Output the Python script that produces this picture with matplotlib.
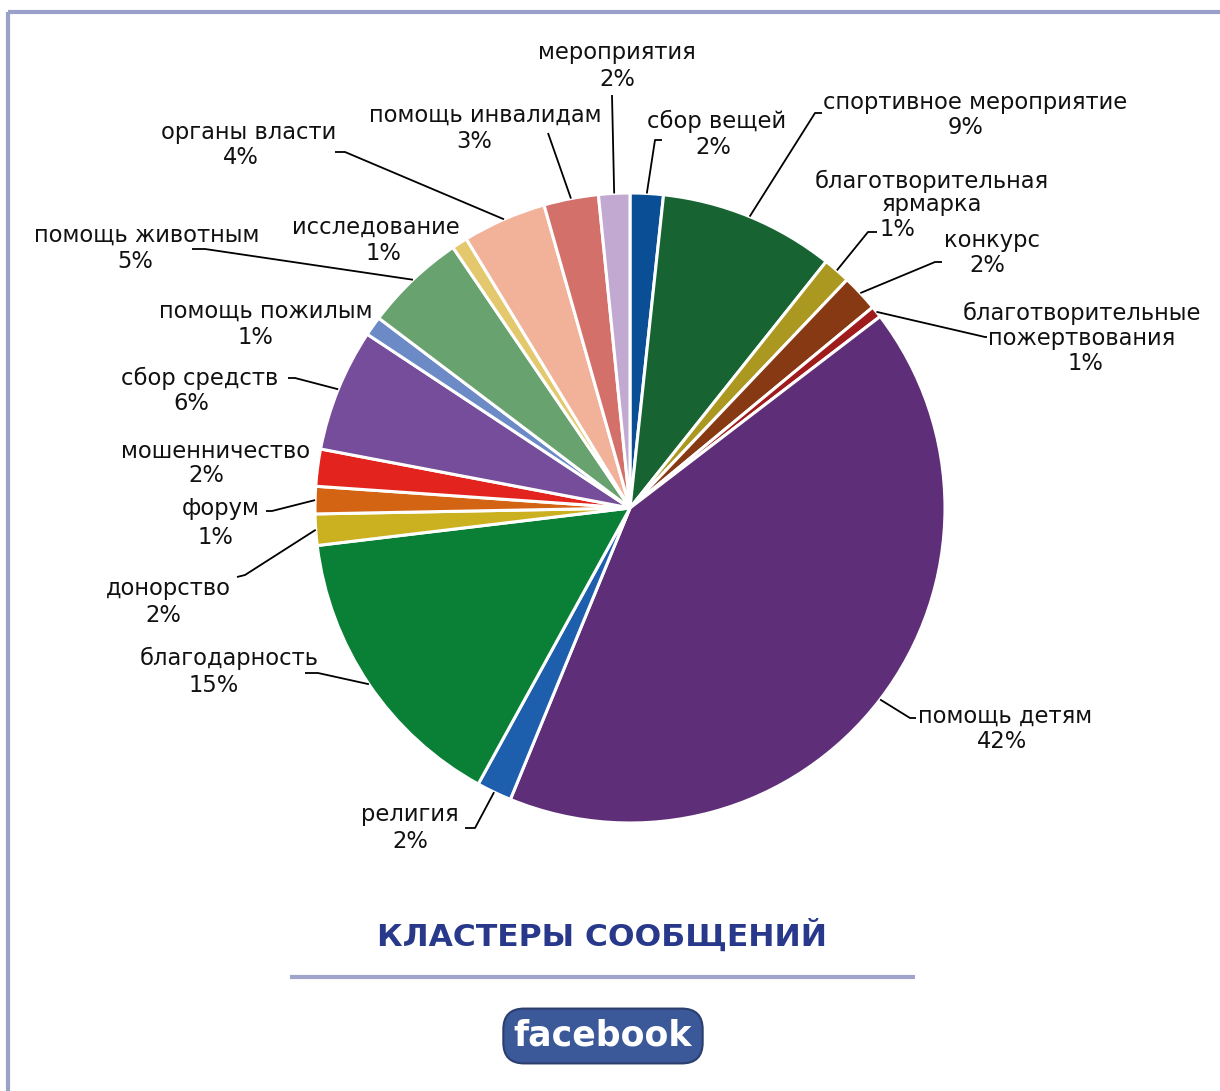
import matplotlib
matplotlib.use("Agg")
import matplotlib.pyplot as plt
import numpy as np

# ---------------- data ----------------
categories = [
    "сбор вещей", "спортивное мероприятие", "благотворительная\nярмарка", "конкурс",
    "благотворительные\nпожертвования", "помощь детям", "религия", "благодарность",
    "донорство", "форум", "мошенничество", "сбор средств", "помощь пожилым",
    "помощь животным", "исследование", "органы власти", "помощь инвалидам", "мероприятия",
]
values = [1.7, 9.0, 1.4, 1.9, 0.6, 41.6, 1.8, 15.1, 1.6, 1.4, 1.9, 6.3, 1.0, 5.2, 0.8, 4.3, 2.8, 1.6]
colors = [
    "#0a4f96", "#186332", "#ab9820", "#873914", "#a01c1c", "#5e2f78", "#1e5fad", "#0a8037",
    "#cbb020", "#d36414", "#e3231d", "#764d9a", "#6b8ac6", "#68a26f", "#e4c86e", "#f2b199",
    "#d4706a", "#c2a9d1",
]
title = "КЛАСТЕРЫ СООБЩЕНИЙ"

# ---------------- layout (pixel coords, y downward) ----------------
W, H = 1220, 1091
CX, CY, R = 630, 508, 315
layout = [
    dict(name=(717, 121), pct=(713, 148), lead=[(655, 140), (662, 140)]),
    dict(name=(975, 102), pct=(966, 128), lead=[(815, 113), (822, 113)]),
    dict(name=(932, 181), pct=(897, 230), lead=[(868, 232), (877, 232)], ls=1.0),
    dict(name=(992, 241), pct=(987, 265), lead=[(935, 262), (942, 262)]),
    dict(name=(1082, 313), pct=(1086, 363), lead=[(985, 337), (987, 337)]),
    dict(name=(1005, 716), pct=(1002, 741), lead=[(910, 718), (916, 718)]),
    dict(name=(410, 815), pct=(410, 842), lead=[(475, 828), (465, 828)]),
    dict(name=(229, 658), pct=(214, 685), lead=[(318, 673), (305, 673)]),
    dict(name=(168, 589), pct=(163, 615), lead=[(245, 575), (237, 577)]),
    dict(name=(221, 509), pct=(216, 538), lead=[(272, 511), (266, 511)]),
    dict(name=(216, 451), pct=(206, 475), lead=None),
    dict(name=(200, 378), pct=(191, 404), lead=[(295, 378), (288, 378)]),
    dict(name=(266, 311), pct=(256, 337), lead=None),
    dict(name=(147, 235), pct=(135, 262), lead=[(205, 249), (192, 249)]),
    dict(name=(376, 227), pct=(384, 253), lead=None),
    dict(name=(249, 132), pct=(241, 158), lead=[(345, 152), (335, 152)]),
    dict(name=(485, 115), pct=(474, 142), lead=[(548, 133), (548, 133)]),
    dict(name=(617, 52), pct=(617, 79), lead=[(612, 95), (612, 95)]),
]

plt.rcParams['font.family'] = ['DejaVu Sans']

fig = plt.figure(figsize=(W / 100, H / 100), dpi=100)
ax = fig.add_axes([0, 0, 1, 1])

def Y(y):
    return H - y

wedges, _ = ax.pie(values, colors=colors, startangle=90, counterclock=False,
                   center=(CX, Y(CY)), radius=R,
                   wedgeprops=dict(edgecolor='white', linewidth=2.2))
ax.set_xlim(0, W)
ax.set_ylim(0, H)
ax.set_aspect('equal')
ax.axis('off')

total = sum(values)
FS = 16.3
for w, name, v, lay in zip(wedges, categories, values, layout):
    ang = np.deg2rad((w.theta1 + w.theta2) / 2)
    ex, ey = CX + R * np.cos(ang), Y(CY) + R * np.sin(ang)
    if lay['lead'] is not None:
        xs = [ex] + [p[0] for p in lay['lead']]
        ys = [ey] + [Y(p[1]) for p in lay['lead']]
        ax.plot(xs, ys, color='black', lw=1.3, solid_capstyle='butt')
    nx, ny = lay['name']
    lines = name.split("\n")
    step = 23 if lay.get('ls') else 25
    for i, ln in enumerate(lines):
        ax.text(nx, Y(ny + i * step), ln, ha='center', va='center', fontsize=FS, color='#111111')
    px, py = lay['pct']
    ax.text(px, Y(py), f"{round(v / total * 100):.0f}%", ha='center', va='center',
            fontsize=FS, color='#111111')

# frame lines
frame_c = '#9aa0c8'
ax.plot([8, W], [Y(12), Y(12)], color=frame_c, lw=3, solid_capstyle='butt')
ax.plot([8, 8], [Y(12), 0], color=frame_c, lw=3, solid_capstyle='butt')

# title + underline
ax.text(602, Y(935), title, ha='center', va='center', fontsize=22.6, fontweight='bold',
        color='#28388a')
ax.plot([290, 915], [Y(977), Y(977)], color='#a0a4cc', lw=3, solid_capstyle='butt')

# facebook logo
ax.text(603, Y(1036), "facebook", ha='center', va='center', fontsize=25, fontweight='bold',
        color='white',
        bbox=dict(boxstyle='round,pad=0.3,rounding_size=0.6', fc='#3b5998', ec='#2a3f6e', lw=1.5))

fig.savefig("out.png", dpi=100)
